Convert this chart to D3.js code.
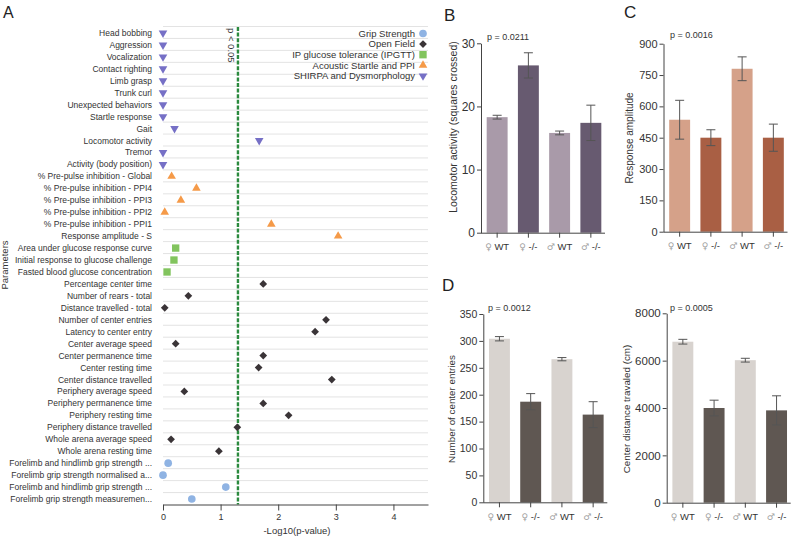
<!DOCTYPE html>
<html>
<head>
<meta charset="utf-8">
<script src="https://cdn.jsdelivr.net/npm/d3@7"></script>
<style>
  html, body { margin: 0; padding: 0; background: #fff; }
  svg { display: block; font-family: "Liberation Sans", Arial, sans-serif; }
</style>
</head>
<body>
<svg id="fig" width="794" height="536"></svg>
<script>
/* ============================
   DATA
============================ */
// panel A: parametros (orden de arriba a abajo)
const PARAMS = [
  "Head bobbing", "Aggression", "Vocalization", "Contact righting", "Limb grasp",
  "Trunk curl", "Unexpected behaviors", "Startle response", "Gait", "Locomotor activity",
  "Tremor", "Activity (body position)",
  "% Pre-pulse inhibition - Global", "% Pre-pulse inhibition - PPI4", "% Pre-pulse inhibition - PPI3",
  "% Pre-pulse inhibition - PPI2", "% Pre-pulse inhibition - PPI1", "Response amplitude - S",
  "Area under glucose response curve", "Initial response to glucose challenge", "Fasted blood glucose concentration",
  "Percentage center time", "Number of rears - total", "Distance travelled - total",
  "Number of center entries", "Latency to center entry", "Center average speed",
  "Center permanence time", "Center resting time", "Center distance travelled",
  "Periphery average speed", "Periphery permanence time", "Periphery resting time",
  "Periphery distance travelled", "Whole arena average speed", "Whole arena resting time",
  "Forelimb and hindlimb grip strength ...", "Forelimb grip strength normalised a...",
  "Forelimb and hindlimb grip strength ...", "Forelimb grip strength measuremen..."
];
const PARAM_GROUP = [
  "shirpa", "shirpa", "shirpa", "shirpa", "shirpa", "shirpa", "shirpa", "shirpa", "shirpa", "shirpa", "shirpa", "shirpa",
  "acoustic", "acoustic", "acoustic", "acoustic", "acoustic", "acoustic",
  "ipgtt", "ipgtt", "ipgtt",
  "open", "open", "open", "open", "open", "open", "open", "open", "open", "open", "open", "open", "open", "open", "open",
  "grip", "grip", "grip", "grip"
];
const PARAM_LOGP = [
  0, 0, 0, 0, 0, 0, 0, 0, 0.2, 1.67, 0, 0,
  0.15, 0.58, 0.31, 0.03, 1.88, 3.04,
  0.22, 0.19, 0.07,
  1.74, 0.44, 0.03, 2.83, 2.64, 0.22, 1.74, 1.66, 2.93, 0.37, 1.74, 2.18, 1.29, 0.14, 0.97,
  0.09, 0, 1.09, 0.5
];
const LOGP_TICKS = [0, 1, 2, 3, 4];
const P_CUTOFF = 0.05;

const LEGEND_GROUPS = ["grip", "open", "ipgtt", "acoustic", "shirpa"];
const LEGEND_NAMES = ["Grip Strength", "Open Field", "IP glucose tolerance (IPGTT)", "Acoustic Startle and PPI", "SHIRPA and Dysmorphology"];

// paneles B-D
const GENOTYPES = ["♀ WT", "♀ -/-", "♂ WT", "♂ -/-"];

const LOCO_MEAN = [18.3, 26.5, 15.8, 17.4];
const LOCO_SEM = [0.3, 2.0, 0.3, 2.8];
const LOCO_TICKS = [0, 10, 20, 30];

const STARTLE_MEAN = [536, 450, 780, 450];
const STARTLE_SEM = [93, 38, 57, 65];
const STARTLE_TICKS = [0, 150, 300, 450, 600, 750, 900];

const ENTRIES_MEAN = [304, 187, 266, 163];
const ENTRIES_SEM = [4, 15, 3, 24];
const ENTRIES_TICKS = [0, 50, 100, 150, 200, 250, 300, 350];

const CDIST_MEAN = [6800, 4000, 6020, 3900];
const CDIST_SEM = [100, 330, 80, 615];
const CDIST_TICKS = [0, 2000, 4000, 6000, 8000];

/* ============================
   STYLE
============================ */
const TXT = "#333";
const AXIS = "#444";
const fmtInt = d3.format("d");

const GROUP_STYLE = {
  grip:     { color: "#8fb3e3", type: d3.symbolCircle,   size: 46, rot: 0 },
  open:     { color: "#3a3437", type: d3.symbolSquare,   size: 30, rot: 45 },
  ipgtt:    { color: "#82c45e", type: d3.symbolSquare,   size: 54, rot: 0 },
  acoustic: { color: "#f59a48", type: d3.symbolTriangle, size: 32, rot: 0 },
  shirpa:   { color: "#7670c6", type: d3.symbolTriangle, size: 32, rot: 180 }
};

const svg = d3.select("#fig");

/* ============================
   HELPERS
============================ */
function marker(g, group, x, y) {
  const s = GROUP_STYLE[group];
  g.append("path")
    .attr("d", d3.symbol().type(s.type).size(s.size)())
    .attr("fill", s.color)
    .attr("transform", `translate(${x},${y}) rotate(${s.rot})`);
}

function panelLetter(t, x, y, size) {
  svg.append("text")
    .attr("x", x).attr("y", y)
    .attr("font-size", size)
    .attr("fill", "#222")
    .text(t);
}

function styleAxis(sel, fontSize) {
  sel.select(".domain").attr("stroke", AXIS);
  sel.selectAll(".tick line").attr("stroke", AXIS);
  sel.selectAll(".tick text").attr("fill", TXT).attr("font-size", fontSize)
    .attr("font-family", "\"Liberation Sans\", Arial, sans-serif");
}

/* ============================
   PANEL A
============================ */
function drawPanelA() {
  const g = svg.append("g");
  const x = d3.scaleLinear().domain([0, 4.6]).range([163, 428]);
  const y = d3.scaleBand().domain(d3.range(PARAMS.length)).range([27, 505]);
  const yAxis = 504.5;

  // lineas de fondo
  g.selectAll("line.grid")
    .data(d3.range(PARAMS.length))
    .enter()
    .append("line")
    .attr("x1", x.range()[0]).attr("x2", x.range()[1])
    .attr("y1", d => y(d) - 0.5).attr("y2", d => y(d) - 0.5)
    .attr("stroke", "#dcdcdc")
    .attr("stroke-width", 0.8);

  // etiquetas
  g.selectAll("text.param")
    .data(PARAMS)
    .enter()
    .append("text")
    .attr("x", 152)
    .attr("y", (d, i) => y(i) + y.bandwidth() / 2)
    .attr("dy", "0.35em")
    .attr("text-anchor", "end")
    .attr("font-size", 8.5)
    .attr("fill", TXT)
    .text(d => d);

  // corte p < 0.05
  const xc = x(-Math.log10(P_CUTOFF));
  g.append("line")
    .attr("x1", xc).attr("x2", xc)
    .attr("y1", 27).attr("y2", yAxis)
    .attr("stroke", "#2b8a3e")
    .attr("stroke-width", 2.4)
    .attr("stroke-dasharray", "4,1.6");

  g.append("text")
    .attr("transform", `translate(${xc - 10},28) rotate(90)`)
    .attr("font-size", 9.5)
    .attr("fill", TXT)
    .text("p < 0.05");

  // puntos
  PARAMS.forEach((p, i) => {
    marker(g, PARAM_GROUP[i], x(PARAM_LOGP[i]), y(i) + y.bandwidth() / 2);
  });

  // eje
  const ax = g.append("g")
    .attr("transform", `translate(0,${yAxis})`)
    .call(d3.axisBottom(x).tickValues(LOGP_TICKS).tickFormat(fmtInt)
      .tickSize(6).tickSizeOuter(0).tickPadding(3));
  styleAxis(ax, 9);

  g.append("text")
    .attr("x", 297).attr("y", 534)
    .attr("text-anchor", "middle")
    .attr("font-size", 9.5)
    .attr("fill", TXT)
    .text("-Log10(p-value)");

  g.append("text")
    .attr("transform", "translate(8,265) rotate(-90)")
    .attr("text-anchor", "middle")
    .attr("font-size", 9.5)
    .attr("fill", TXT)
    .text("Parameters");

  // leyenda
  LEGEND_GROUPS.forEach((grp, i) => {
    const ly = 33.5 + i * 10.6;
    g.append("text")
      .attr("x", 415).attr("y", ly)
      .attr("dy", "0.35em")
      .attr("text-anchor", "end")
      .attr("font-size", 9.5)
      .attr("fill", TXT)
      .text(LEGEND_NAMES[i]);
    marker(g, grp, 423, ly);
  });

  panelLetter("A", 3, 18, 16);
}

/* ============================
   BAR PANELS
============================ */
function drawBars(p) {
  const g = svg.append("g");
  const y = d3.scaleLinear().domain([0, p.max]).range([p.y1, p.y0]);
  const x = d3.scaleBand().domain(GENOTYPES)
    .range([p.x0 + 1, p.x0 + 125])
    .paddingInner(0.33).paddingOuter(0.15);
  const cols = [p.light, p.dark, p.light, p.dark];

  g.selectAll("rect")
    .data(p.mean)
    .enter()
    .append("rect")
    .attr("x", (d, i) => x(GENOTYPES[i]))
    .attr("width", x.bandwidth())
    .attr("y", d => y(d))
    .attr("height", d => y(0) - y(d))
    .attr("fill", (d, i) => cols[i]);

  // barras de error
  const cap = 4.5;
  p.mean.forEach((m, i) => {
    const cx = x(GENOTYPES[i]) + x.bandwidth() / 2;
    const lo = y(m - p.sem[i]), hi = y(m + p.sem[i]);
    const eg = g.append("g").attr("stroke", "#555").attr("stroke-width", 1);
    eg.append("line").attr("x1", cx).attr("x2", cx).attr("y1", lo).attr("y2", hi);
    eg.append("line").attr("x1", cx - cap).attr("x2", cx + cap).attr("y1", lo).attr("y2", lo);
    eg.append("line").attr("x1", cx - cap).attr("x2", cx + cap).attr("y1", hi).attr("y2", hi);
  });

  const ay = g.append("g")
    .attr("transform", `translate(${p.x0},0)`)
    .call(d3.axisLeft(y).tickValues(p.ticks).tickFormat(fmtInt)
      .tickSize(4).tickSizeOuter(0).tickPadding(2));
  styleAxis(ay, p.tickFont);

  const axb = g.append("g")
    .attr("transform", `translate(0,${p.y1})`)
    .call(d3.axisBottom(x).tickSize(5).tickSizeOuter(0).tickPadding(6));
  styleAxis(axb, 9.5);
  axb.select(".domain").attr("d", `M${p.x0},0.5H${p.x0 + 124}`);
  axb.selectAll(".tick text").each(function (d) {
    const t = d3.select(this);
    t.text(null);
    t.append("tspan").attr("fill", "#a0a0a0")
      .attr("font-family", "\"DejaVu Sans\", sans-serif").attr("font-size", 9)
      .text(d.slice(0, 1));
    t.append("tspan").attr("fill", TXT).text(d.slice(1));
  });

  g.append("text")
    .attr("x", p.px).attr("y", p.py)
    .attr("font-size", 9)
    .attr("fill", TXT)
    .text(p.pText);

  g.append("text")
    .attr("transform", `translate(${p.lx},${p.ly}) rotate(-90)`)
    .attr("text-anchor", "middle")
    .attr("font-size", p.labelFont)
    .attr("fill", TXT)
    .text(p.label);
}

/* ============================
   INIT
============================ */
drawPanelA();

drawBars({
  x0: 481, y0: 43.3, y1: 232.7, max: 30, ticks: LOCO_TICKS, tickFont: 12,
  mean: LOCO_MEAN, sem: LOCO_SEM, light: "#a99aa9", dark: "#675a70",
  pText: "p = 0.0211", px: 487, py: 40,
  label: "Locomotor activity (squares crossed)", lx: 457, ly: 127, labelFont: 10.5
});
panelLetter("B", 444, 21, 17);

drawBars({
  x0: 663.5, y0: 43.7, y1: 231.7, max: 900, ticks: STARTLE_TICKS, tickFont: 11,
  mean: STARTLE_MEAN, sem: STARTLE_SEM, light: "#d5a189", dark: "#a95f44",
  pText: "p = 0.0016", px: 670, py: 38,
  label: "Response amplitude", lx: 633, ly: 138, labelFont: 10
});
panelLetter("C", 624, 18, 17);

drawBars({
  x0: 483.3, y0: 314, y1: 502.3, max: 350, ticks: ENTRIES_TICKS, tickFont: 10.5,
  mean: ENTRIES_MEAN, sem: ENTRIES_SEM, light: "#d8d3cf", dark: "#5f5752",
  pText: "p = 0.0012", px: 488, py: 311,
  label: "Number of center entries", lx: 455, ly: 409, labelFont: 9.8
});
panelLetter("D", 442, 291, 17);

drawBars({
  x0: 666.7, y0: 313.3, y1: 502.7, max: 8000, ticks: CDIST_TICKS, tickFont: 11.5,
  mean: CDIST_MEAN, sem: CDIST_SEM, light: "#d8d3cf", dark: "#5f5752",
  pText: "p = 0.0005", px: 670, py: 311,
  label: "Center distance travaled (cm)", lx: 630, ly: 409, labelFont: 9.8
});
</script>
</body>
</html>
